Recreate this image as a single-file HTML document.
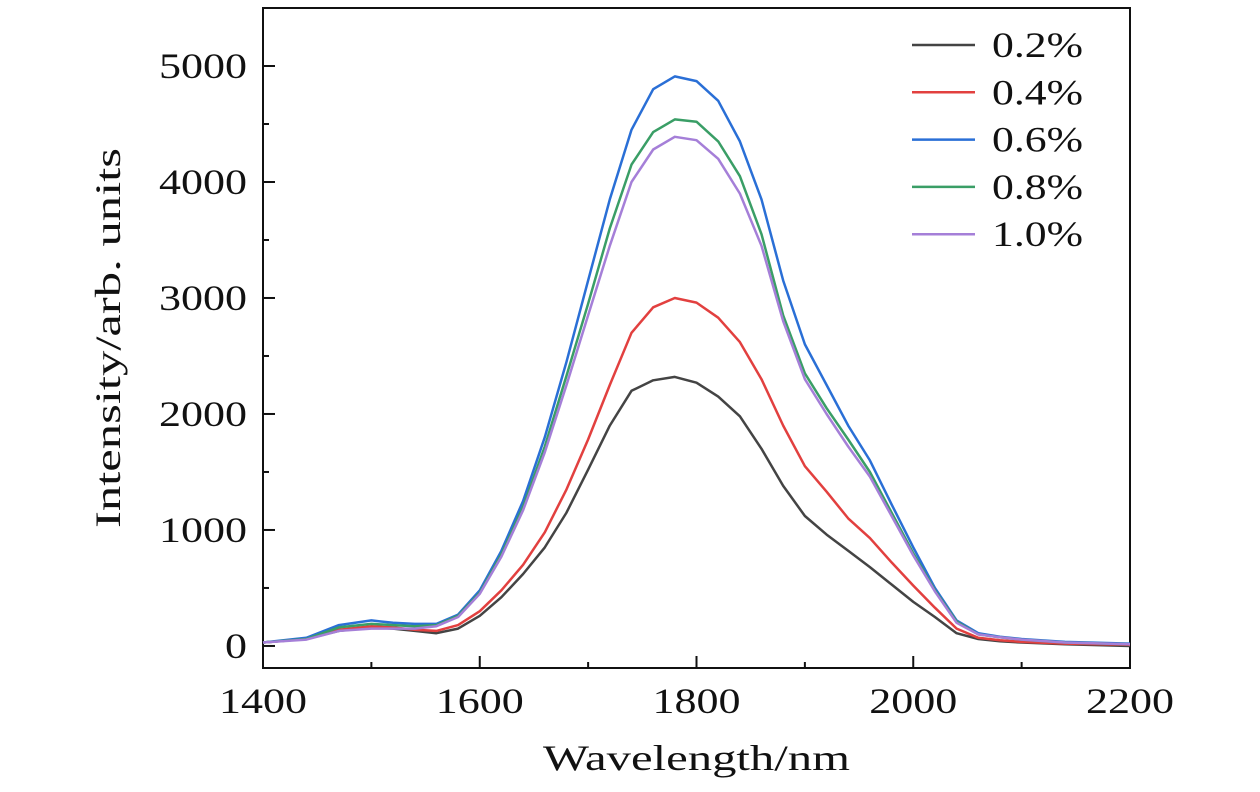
<!DOCTYPE html>
<html><head><meta charset="utf-8"><style>
html,body{margin:0;padding:0;background:#fff;}
svg text{font-family:"Liberation Serif",serif;fill:#111;}
</style></head><body>
<svg id="chart" width="1260" height="787" viewBox="0 0 1260 787" xmlns="http://www.w3.org/2000/svg">
<g id="axes"></g>
<g id="series"></g>
<g id="legend"></g>
<text x="543" y="770" font-size="36" textLength="307" lengthAdjust="spacingAndGlyphs">Wavelength/nm</text>
<text transform="translate(120,528) rotate(-90)" font-size="36" textLength="380" lengthAdjust="spacingAndGlyphs">Intensity/arb. units</text>
</svg>
<script>
const wavelengths=[1400,1440,1470,1500,1520,1540,1560,1580,1600,1620,1640,1660,1680,1700,1720,1740,1760,1780,1800,1820,1840,1860,1880,1900,1920,1940,1960,1980,2000,2020,2040,2060,2080,2100,2140,2200];
const s02=[30,60,130,160,150,130,110,150,260,420,620,850,1150,1520,1900,2200,2290,2320,2270,2150,1980,1700,1380,1120,960,820,680,530,380,250,110,60,40,30,15,0];
const s04=[30,60,140,170,160,140,130,180,300,480,700,980,1350,1780,2250,2700,2920,3000,2960,2830,2620,2300,1900,1550,1330,1100,930,720,520,330,150,70,50,35,20,10];
const s06=[30,70,180,220,200,190,190,270,480,820,1250,1800,2450,3150,3850,4450,4800,4910,4870,4700,4350,3850,3150,2600,2250,1900,1600,1220,850,500,220,110,80,60,35,20];
const s08=[30,60,160,190,180,170,180,260,460,790,1200,1720,2330,2950,3600,4150,4430,4540,4520,4350,4050,3550,2850,2350,2050,1780,1500,1150,800,480,210,100,75,55,30,15];
const s10=[30,55,130,150,150,150,170,250,450,770,1170,1670,2250,2850,3450,4000,4280,4390,4360,4200,3900,3450,2800,2300,2000,1720,1460,1120,780,470,200,100,75,55,30,15];
const seriesLabels=["0.2%","0.4%","0.6%","0.8%","1.0%"];
const seriesColors=["#444444","#e2403f","#2a6fd6","#3a9e66","#a57fd8"];
const xTicks=[1400,1600,1800,2000,2200];
const yTicks=[0,1000,2000,3000,4000,5000];

const NS="http://www.w3.org/2000/svg";
const L=263,R=1130,T=8,B=668;
const xMin=1400,xMax=2200,yMin=-190,yMax=5500;
const xs=v=>L+(v-xMin)/(xMax-xMin)*(R-L);
const ys=v=>B-(v-yMin)/(yMax-yMin)*(B-T);
function mk(tag,attrs,parent){const e=document.createElementNS(NS,tag);for(const k in attrs)e.setAttribute(k,attrs[k]);parent.appendChild(e);return e;}
const axes=document.getElementById('axes');
const frame=mk('rect',{x:L,y:T,width:R-L,height:B-T,fill:'none',stroke:'#111','stroke-width':2},axes);


for(let v=xMin;v<=xMax;v+=100){
  const major=xTicks.includes(v);
  const t=mk('line',{x1:xs(v),x2:xs(v),y1:B,y2:B-(major?12:6),stroke:'#111','stroke-width':2},axes);
  
  
}
xTicks.forEach(v=>{
  const w=String(v).length*22;
  const t=mk('text',{x:xs(v)-w/2,y:713,'font-size':36,textLength:w,lengthAdjust:'spacingAndGlyphs'},axes);t.textContent=v;
  
  
});
for(let v=0;v<=5000;v+=500){
  const major=yTicks.includes(v);
  const t=mk('line',{x1:L,x2:L+(major?12:6),y1:ys(v),y2:ys(v),stroke:'#111','stroke-width':2},axes);
  
  
}
yTicks.forEach(v=>{
  const w=String(v).length*22;
  const t=mk('text',{x:247-w,y:ys(v)+12,'font-size':36,textLength:w,lengthAdjust:'spacingAndGlyphs'},axes);t.textContent=v;
  
  
});
const sg=document.getElementById('series');
[s02,s04,s06,s08,s10].forEach((vals,i)=>{
  const d=vals.map((v,j)=>(j?'L':'M')+xs(wavelengths[j]).toFixed(1)+','+ys(v).toFixed(1)).join(' ');
  const p=mk('path',{d:d,fill:'none',stroke:seriesColors[i],'stroke-width':2.5,'stroke-linejoin':'round'},sg);
  
  
});
const lg=document.getElementById('legend');
seriesLabels.forEach((lab,i)=>{
  const y=45+i*47.3;
  const ln=mk('line',{x1:912,x2:975,y1:y,y2:y,stroke:seriesColors[i],'stroke-width':2.5},lg);
  
  
  const t=mk('text',{x:992,y:y+12,'font-size':36,textLength:91,lengthAdjust:'spacingAndGlyphs'},lg);t.textContent=lab;
  
  
});
</script>
</body></html>
